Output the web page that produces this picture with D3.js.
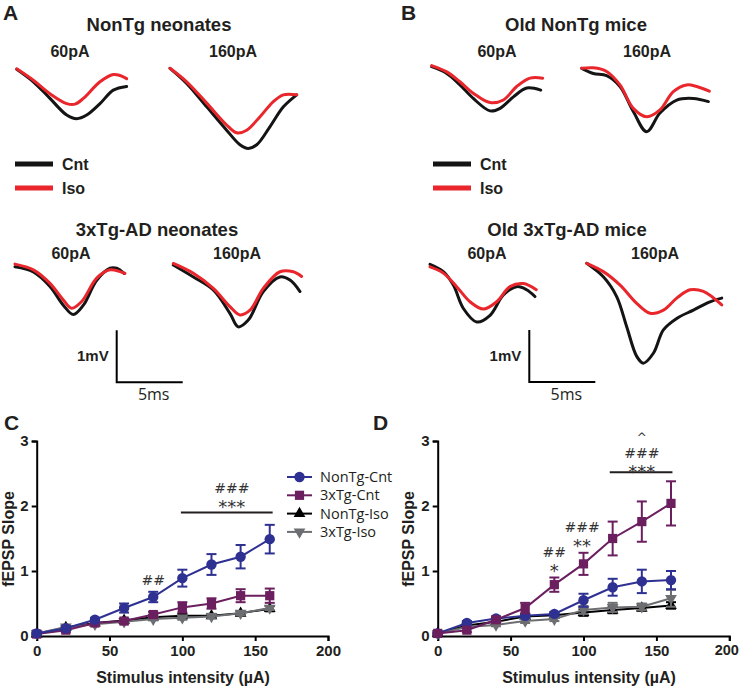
<!DOCTYPE html>
<html><head><meta charset="utf-8">
<script src="https://cdn.jsdelivr.net/npm/d3@7"></script>
<style>
html,body{margin:0;padding:0;background:#fff;}
svg{display:block;}
.b{font-family:"Liberation Sans",Arial,sans-serif;font-weight:bold;}
.o{font-family:"Open Sans",sans-serif;}
</style></head>
<body>
<svg id="fig" width="740" height="689"></svg>
<script>
// ---------------- DATA ----------------
// Traces: time (ms) and voltage (mV, relative to trace start)
const traceA60_t   = [0,1.26,2.52,3.79,4.55,5.30,6.31,7.32,8.33];
const traceA60_cnt = [0,-0.24,-0.56,-0.88,-0.95,-0.88,-0.66,-0.40,-0.33];
const traceA60_isoT = [0,1.26,2.52,3.79,4.42,5.05,6.31,7.32,7.83,8.33];
const traceA60_iso  = [0.01,-0.21,-0.47,-0.66,-0.67,-0.56,-0.24,-0.10,-0.12,-0.18];

const traceA160_t   = [0,1.26,2.78,4.29,5.30,5.93,6.57,7.58,8.59,9.60];
const traceA160_cnt = [0,-0.29,-0.74,-1.19,-1.47,-1.54,-1.47,-1.12,-0.74,-0.51];
const traceA160_isoT = [0,1.26,2.78,4.29,5.05,5.81,6.82,7.83,8.59,9.60];
const traceA160_iso  = [0,-0.26,-0.67,-1.09,-1.24,-1.19,-0.93,-0.64,-0.51,-0.51];

const traceA3x60_t   = [0,1.39,2.65,3.66,4.42,5.18,6.19,7.20,7.70,8.26];
const traceA3x60_cnt = [0,-0.10,-0.38,-0.74,-0.92,-0.74,-0.26,-0.03,-0.03,-0.13];
const traceA3x60_isoT = [0,1.39,2.65,3.66,4.29,5.05,6.19,7.20,8.33];
const traceA3x60_iso  = [0.05,-0.06,-0.32,-0.64,-0.80,-0.67,-0.22,-0.06,-0.13];

const traceA3x160_t   = [0,1.52,3.03,4.29,4.92,5.68,6.82,8.08,8.84,9.60];
const traceA3x160_cnt = [0,-0.23,-0.48,-0.93,-1.19,-1.06,-0.51,-0.23,-0.29,-0.51];
const traceA3x160_isoT = [0,1.52,3.03,4.29,5.05,5.81,6.82,8.08,9.09,9.72];
const traceA3x160_iso  = [0.03,-0.16,-0.45,-0.80,-0.96,-0.87,-0.45,-0.13,-0.13,-0.22];

const traceB60_t   = [0,1.14,2.14,3.15,4.42,5.18,6.19,7.20,8.26];
const traceB60_cnt = [0,-0.13,-0.35,-0.61,-0.85,-0.80,-0.58,-0.41,-0.45];
const traceB60_isoT = [0,1.14,2.14,3.15,4.42,5.43,6.44,7.45,8.41];
const traceB60_iso  = [0.02,-0.10,-0.29,-0.51,-0.69,-0.64,-0.38,-0.22,-0.22];

const traceB160_t   = [0,0.88,1.89,2.90,3.91,4.92,5.93,7.20,8.46,9.60];
const traceB160_cnt = [0,-0.10,-0.14,-0.35,-0.83,-1.22,-0.86,-0.61,-0.58,-0.64];
const traceB160_isoT = [0,0.88,1.89,2.90,3.91,4.92,5.93,6.94,7.95,8.71,9.67];
const traceB160_iso  = [0,0.01,-0.06,-0.32,-0.77,-0.93,-0.80,-0.45,-0.32,-0.35,-0.44];

const traceB3x60_t   = [0,1.01,1.77,2.53,3.54,4.55,5.56,6.57,7.32,7.95];
const traceB3x60_cnt = [0,-0.14,-0.40,-0.85,-1.11,-0.98,-0.59,-0.43,-0.49,-0.62];
const traceB3x60_isoT = [0,1.01,2.02,3.03,4.04,5.05,6.06,7.07,8.05];
const traceB3x60_iso  = [-0.05,-0.17,-0.43,-0.72,-0.86,-0.72,-0.43,-0.37,-0.49];

const traceB3x160_t   = [0,1.26,2.27,3.03,3.79,4.29,5.05,5.81,6.82,8.08,9.34,10.23];
const traceB3x160_cnt = [0,-0.26,-0.64,-1.22,-1.79,-1.92,-1.73,-1.28,-1.06,-0.90,-0.74,-0.67];
const traceB3x160_isoT = [0,1.26,2.53,3.79,4.80,5.81,6.82,7.83,8.84,10.23];
const traceB3x160_iso  = [0,-0.16,-0.42,-0.77,-0.96,-0.90,-0.67,-0.51,-0.54,-0.80];

const scaleBarMV = 1, scaleBarMS = 5;

// Input-output curves
const stimulus = [0,20,40,60,80,100,120,140,160];
const xTicks = [0,50,100,150,200];
const yTicks = [0,1,2,3];
const seriesNames = ["NonTg-Cnt","3xTg-Cnt","NonTg-Iso","3xTg-Iso"];

const cNonTgCnt    = [0.04,0.12,0.25,0.43,0.60,0.89,1.10,1.22,1.49];
const cNonTgCntErr = [0.02,0.03,0.03,0.07,0.08,0.13,0.16,0.18,0.22];
const c3xTgCnt     = [0.03,0.09,0.20,0.23,0.33,0.44,0.50,0.62,0.62];
const c3xTgCntErr  = [0.02,0.03,0.03,0.04,0.04,0.08,0.08,0.10,0.11];
const cNonTgIso    = [0.03,0.13,0.20,0.24,0.29,0.31,0.31,0.35,0.42];
const cNonTgIsoErr = [0.01,0.02,0.02,0.02,0.03,0.03,0.03,0.03,0.04];
const c3xTgIso     = [0.04,0.14,0.18,0.22,0.26,0.28,0.30,0.35,0.43];
const c3xTgIsoErr  = [0.01,0.02,0.02,0.02,0.02,0.03,0.03,0.03,0.03];

const dNonTgCnt    = [0.04,0.20,0.27,0.31,0.34,0.55,0.75,0.84,0.86];
const dNonTgCntErr = [0.02,0.03,0.03,0.03,0.03,0.10,0.13,0.18,0.14];
const d3xTgCnt     = [0.04,0.09,0.25,0.43,0.79,1.11,1.50,1.76,2.04];
const d3xTgCntErr  = [0.02,0.03,0.04,0.08,0.11,0.17,0.26,0.31,0.34];
const dNonTgIso    = [0.04,0.16,0.22,0.30,0.32,0.36,0.40,0.43,0.47];
const dNonTgIsoErr = [0.01,0.02,0.02,0.03,0.03,0.05,0.05,0.04,0.05];
const d3xTgIso     = [0.04,0.14,0.17,0.23,0.26,0.40,0.44,0.45,0.58];
const d3xTgIsoErr  = [0.01,0.02,0.02,0.03,0.03,0.06,0.07,0.05,0.13];

// significance annotations: text, x (µA), y (slope units, text baseline)
const cAnnot = [{t:"##",x:80,y:0.785},{t:"###",x:134,y:2.2},{t:"***",x:134,y:1.885}];
const cSigBar = [99,162,1.9];
const dAnnot = [{t:"##",x:80,y:1.223},{t:"*",x:80,y:0.908},{t:"###",x:99,y:1.6},{t:"**",x:99,y:1.292},
                {t:"^",x:140,y:2.992},{t:"###",x:140,y:2.738},{t:"***",x:140,y:2.438}];
const dSigBar = [118,161,2.52];

// ---------------- DRAW ----------------
const svg = d3.select("#fig");
const RED = "#e8262c", BLK = "#141414";
const COL = {"NonTg-Cnt":"#2e3191","3xTg-Cnt":"#6b1f5f","NonTg-Iso":"#000000","3xTg-Iso":"#6d6e71"};
const SYM = {"NonTg-Cnt":d3.symbolCircle,"3xTg-Cnt":d3.symbolSquare,"NonTg-Iso":d3.symbolTriangle,"3xTg-Iso":d3.symbolTriangle};
const SYMROT = {"NonTg-Cnt":0,"3xTg-Cnt":0,"NonTg-Iso":0,"3xTg-Iso":180};

// trace scales (13.2 px/ms, 52 px/mV)
const xT = d3.scaleLinear().domain([0,5]).range([0,66]);
const yT = d3.scaleLinear().domain([0,1]).range([0,-52]);
const tline = d3.line().x(d=>xT(d[0])).y(d=>yT(d[1])).curve(d3.curveCatmullRom.alpha(0.5));

function drawTrace(ox, oy, tc, vc, ti, vi){
  const g = svg.append("g").attr("transform",`translate(${ox},${oy})`);
  g.append("path").attr("d", tline(d3.zip(tc,vc))).attr("fill","none")
    .attr("stroke",BLK).attr("stroke-width",3).attr("stroke-linejoin","round").attr("stroke-linecap","round");
  g.append("path").attr("d", tline(d3.zip(ti,vi))).attr("fill","none")
    .attr("stroke",RED).attr("stroke-width",3).attr("stroke-linejoin","round").attr("stroke-linecap","round");
}
function text(x,y,s,cls,size,anchor){
  return svg.append("text").attr("x",x).attr("y",y).attr("class",cls).attr("font-size",size)
    .attr("text-anchor",anchor||"middle").attr("fill","#231f20").text(s);
}

// Panel A
text(3,20,"A","b",21,"start");
text(159,31,"NonTg neonates","b",18.5);
text(70,57,"60pA","b",16); text(233,57,"160pA","b",16);
drawTrace(16.7,69.3,traceA60_t,traceA60_cnt,traceA60_isoT,traceA60_iso);
drawTrace(170,68.3,traceA160_t,traceA160_cnt,traceA160_isoT,traceA160_iso);
text(157,236,"3xTg-AD neonates","b",18.5);
text(71,259,"60pA","b",16); text(237,259,"160pA","b",16);
drawTrace(15,266.7,traceA3x60_t,traceA3x60_cnt,traceA3x60_isoT,traceA3x60_iso);
drawTrace(173.3,265,traceA3x160_t,traceA3x160_cnt,traceA3x160_isoT,traceA3x160_iso);

// Panel B
text(401,20,"B","b",21,"start");
text(576,31,"Old NonTg mice","b",18.5);
text(497,57,"60pA","b",16); text(647,57,"160pA","b",16);
drawTrace(431.7,66.7,traceB60_t,traceB60_cnt,traceB60_isoT,traceB60_iso);
drawTrace(581.7,68.3,traceB160_t,traceB160_cnt,traceB160_isoT,traceB160_iso);
text(567,236,"Old 3xTg-AD mice","b",18.5);
text(487,259,"60pA","b",16); text(655,259,"160pA","b",16);
drawTrace(430,264.3,traceB3x60_t,traceB3x60_cnt,traceB3x60_isoT,traceB3x60_iso);
drawTrace(586.7,263.3,traceB3x160_t,traceB3x160_cnt,traceB3x160_isoT,traceB3x160_iso);

// trace legends
function traceLegend(x,y){
  const items=[["Cnt",BLK],["Iso",RED]];
  items.forEach((it,i)=>{
    svg.append("line").attr("x1",x).attr("x2",x+38).attr("y1",y+i*24).attr("y2",y+i*24)
      .attr("stroke",it[1]).attr("stroke-width",5);
    text(x+47,y+i*24+5.5,it[0],"b",16,"start");
  });
}
traceLegend(15,164); traceLegend(433,164);

// scale bars
function scaleBar(x,y){
  const g = svg.append("g").attr("transform",`translate(${x},${y})`);
  g.append("path").attr("d",`M${xT(0)},${yT(scaleBarMV)}L${xT(0)},${yT(0)}L${xT(scaleBarMS)},${yT(0)}`)
    .attr("fill","none").attr("stroke","#000").attr("stroke-width",2);
  text(x-8,y-21,"1mV","b",15,"end");
  text(x+xT(scaleBarMS/2)+4,y+18,"5ms","o",16);
}
scaleBar(116.7,382.3); scaleBar(529.3,382);

// ---------------- IO panels ----------------
function ioPanel(x0, x1, cfg){
  const x = d3.scaleLinear().domain([0,200]).range([x0,x1]);
  const y = d3.scaleLinear().domain([0,3]).range([636,441]);
  const g = svg.append("g");
  const ax = g.append("g").attr("transform","translate(0,636)")
    .call(d3.axisBottom(x).tickValues(xTicks).tickFormat(d3.format("d")).tickSize(5).tickPadding(4));
  const ay = g.append("g").attr("transform",`translate(${x0},0)`)
    .call(d3.axisLeft(y).tickValues(yTicks).tickFormat(d3.format("d")).tickSize(5).tickPadding(3));
  [ax,ay].forEach(a=>{
    a.select(".domain").attr("stroke-width",2).attr("stroke","#000");
    a.selectAll(".tick line").attr("stroke-width",2).attr("stroke","#000");
    a.selectAll(".tick text").attr("class","b").attr("font-size",15).attr("fill","#231f20");
  });
  if (cfg.clampLast) ax.selectAll(".tick text").filter(d=>d===200).attr("dx",-3).attr("font-size",14.5);
  svg.append("text").attr("class","b").attr("font-size",16).attr("fill","#231f20")
    .attr("text-anchor","middle").attr("transform",`translate(${cfg.ylx},539) rotate(-90)`).text("fEPSP Slope");
  text(cfg.xlx,683,"Stimulus intensity (µA)","b",16);
  text(cfg.lx,430,cfg.label,"b",21,"start");

  const line = d3.line().x(d=>x(d[0])).y(d=>y(d[1]));
  cfg.order.forEach(name=>{
    const s = cfg.series[name];
    const c = COL[name];
    const pts = d3.zip(stimulus,s[0],s[1]);
    g.append("path").attr("d",line(pts)).attr("fill","none").attr("stroke",c).attr("stroke-width",2);
    const eb = g.append("g").attr("stroke",c).attr("stroke-width",2);
    pts.forEach(p=>{
      const xx=x(p[0]), yt=y(p[1]+p[2]), yb=y(p[1]-p[2]);
      eb.append("line").attr("x1",xx).attr("x2",xx).attr("y1",yt).attr("y2",yb);
      eb.append("line").attr("x1",xx-5).attr("x2",xx+5).attr("y1",yt).attr("y2",yt);
      eb.append("line").attr("x1",xx-5).attr("x2",xx+5).attr("y1",yb).attr("y2",yb);
    });
    const sym = d3.symbol().type(SYM[name]).size(name.indexOf("Iso")>=0?60:85);
    g.selectAll(null).data(pts).join("path").attr("d",sym)
      .attr("transform",p=>`translate(${x(p[0])},${y(p[1])}) rotate(${SYMROT[name]})`).attr("fill",c);
  });
  // significance bar + marks
  const sb = cfg.bar;
  g.append("line").attr("x1",x(sb[0])).attr("x2",x(sb[1])).attr("y1",y(sb[2])).attr("y2",y(sb[2]))
    .attr("stroke","#231f20").attr("stroke-width",2);
  cfg.annot.forEach(a=>{
    const fs = a.t.indexOf("*")>=0 ? 18 : (a.t==="^" ? 12 : 14);
    g.append("text").attr("x",x(a.x)).attr("y",y(a.y))
      .attr("text-anchor","middle").attr("font-family","\"DejaVu Sans\",sans-serif").attr("font-size",fs)
      .attr("fill","#333").text(a.t);
  });
}

ioPanel(36.7, 328, {
  label:"C", lx:4, ylx:14, xlx:183, bar:cSigBar, annot:cAnnot, clampLast:false,
  order:["NonTg-Iso","3xTg-Iso","3xTg-Cnt","NonTg-Cnt"],
  series:{"NonTg-Cnt":[cNonTgCnt,cNonTgCntErr],"3xTg-Cnt":[c3xTgCnt,c3xTgCntErr],
          "NonTg-Iso":[cNonTgIso,cNonTgIsoErr],"3xTg-Iso":[c3xTgIso,c3xTgIsoErr]}
});
ioPanel(437.7, 729.3, {
  label:"D", lx:373, ylx:414, xlx:589, bar:dSigBar, annot:dAnnot, clampLast:true,
  order:["NonTg-Iso","3xTg-Iso","NonTg-Cnt","3xTg-Cnt"],
  series:{"NonTg-Cnt":[dNonTgCnt,dNonTgCntErr],"3xTg-Cnt":[d3xTgCnt,d3xTgCntErr],
          "NonTg-Iso":[dNonTgIso,dNonTgIsoErr],"3xTg-Iso":[d3xTgIso,d3xTgIsoErr]}
});

// legend (panel C)
seriesNames.forEach((name,i)=>{
  const yy = 477 + i*18.3;
  svg.append("line").attr("x1",287).attr("x2",312).attr("y1",yy).attr("y2",yy)
    .attr("stroke",COL[name]).attr("stroke-width",2);
  svg.append("path").attr("d",d3.symbol().type(SYM[name]).size(name.indexOf("Iso")>=0?60:85))
    .attr("transform",`translate(299.5,${yy}) rotate(${SYMROT[name]})`).attr("fill",COL[name]);
  text(320,yy+5,name,"o",14.5,"start");
});
</script>
</body></html>
